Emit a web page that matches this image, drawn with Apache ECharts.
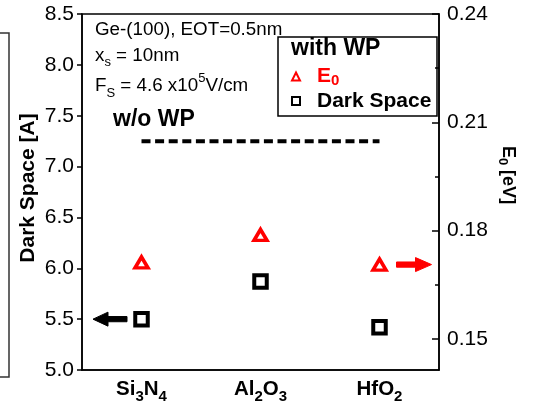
<!DOCTYPE html>
<html>
<head>
<meta charset="utf-8">
<script src="https://cdn.jsdelivr.net/npm/echarts@6/dist/echarts.min.js"></script>
<style>
  html, body { margin: 0; padding: 0; background: #fff; }
  #chart { width: 542px; height: 410px; }
</style>
</head>
<body>
<div id="chart"></div>
<script>
// ---------- data ----------
const categories = ['Si3N4', 'Al2O3', 'HfO2'];
const darkSpace = [5.50, 5.87, 5.42];        // left axis [A]
const e0 = [0.1712, 0.1788, 0.1706];         // right axis [eV]
const woWP = [7.25, 7.25, 7.25];             // w/o WP dark space (dashed)
const leftMin = 5.0, leftMax = 8.5, leftStep = 0.5;
const rightMin = 0.1414, rightMax = 0.24;
const rightMajorTicks = [0.15, 0.18, 0.21, 0.24];
const rightMinorTicks = [0.165, 0.195, 0.225];

const FONT = 'Liberation Sans, Arial, Helvetica, sans-serif';
const chart = echarts.init(document.getElementById('chart'), null, { renderer: 'canvas' });

function chemRich(name) {
  return name.replace(/(\D+)/g, '{b|$1}').replace(/(\d)/g, '{s|$1}');
}

const option = {
  animation: false,
  backgroundColor: '#fff',
  textStyle: { fontFamily: FONT },
  grid: { left: 82, right: 103, top: 14, bottom: 40, show: true, borderColor: '#000', borderWidth: 1.5, backgroundColor: 'transparent' },
  xAxis: {
    type: 'category',
    data: categories,
    boundaryGap: true,
    axisLine: { lineStyle: { color: '#000', width: 1.5 } },
    axisTick: { inside: true, alignWithLabel: true, length: 7, lineStyle: { color: '#000', width: 1.5 } },
    splitLine: { show: false },
    axisLabel: {
      interval: 0,
      hideOverlap: false,
      margin: 4,
      formatter: chemRich,
      rich: {
        b: { fontFamily: FONT, fontSize: 20.5, fontWeight: 'bold', color: '#000', lineHeight: 30, verticalAlign: 'middle' },
        s: { fontFamily: FONT, fontSize: 15, fontWeight: 'bold', color: '#000', lineHeight: 14, verticalAlign: 'bottom' }
      }
    }
  },
  yAxis: [
    {
      type: 'value', min: leftMin, max: leftMax, interval: leftStep, position: 'left',
      axisLine: { show: true, lineStyle: { color: '#000', width: 1.5 } },
      axisTick: { show: true, inside: false, length: 5, lineStyle: { color: '#000', width: 1.5 } },
      splitLine: { show: false },
      axisLabel: { margin: 8, fontFamily: FONT, fontSize: 21, color: '#000', formatter: v => v.toFixed(1) }
    },
    {
      type: 'value', min: rightMin, max: rightMax, position: 'right',
      axisLine: { show: true, lineStyle: { color: '#000', width: 1.5 } },
      axisTick: { show: true, inside: true, length: 7, customValues: rightMajorTicks, lineStyle: { color: '#000', width: 1.5 } },
      splitLine: { show: false },
      axisLabel: { margin: 8, fontFamily: FONT, fontSize: 21, color: '#000', customValues: rightMajorTicks, formatter: v => v.toFixed(2) }
    },
    {
      type: 'value', min: rightMin, max: rightMax, position: 'right',
      axisLine: { show: false },
      axisTick: { show: true, inside: true, length: 4, customValues: rightMinorTicks, lineStyle: { color: '#000', width: 1.5 } },
      splitLine: { show: false },
      axisLabel: { show: false }
    }
  ],
  legend: {
    orient: 'vertical',
    left: 286, top: 61,
    itemWidth: 8, itemHeight: 8, itemGap: 2,
    data: ['E0', 'Dark Space'],
    itemStyle: { borderWidth: 2 },
    formatter: function (name) { return name === 'E0' ? '{r|E}{rs|0}' : '{k|Dark Space}'; },
    textStyle: {
      padding: [0, 0, 0, 12],
      rich: {
        r: { fontFamily: FONT, fontSize: 21, fontWeight: 'bold', color: '#ff0000', lineHeight: 24, verticalAlign: 'middle' },
        rs: { fontFamily: FONT, fontSize: 15, fontWeight: 'bold', color: '#ff0000', lineHeight: 14, verticalAlign: 'bottom' },
        k: { fontFamily: FONT, fontSize: 21, fontWeight: 'bold', color: '#000', lineHeight: 22 }
      }
    }
  },
  series: [
    {
      name: 'w/o WP', type: 'line', xAxisIndex: 0, yAxisIndex: 0,
      data: woWP, showSymbol: false, symbol: 'none', silent: true,
      lineStyle: { color: '#000', width: 4, type: [9, 4.6], cap: 'butt' }
    },
    {
      name: 'E0', type: 'scatter', xAxisIndex: 0, yAxisIndex: 1,
      data: e0, symbol: 'triangle', symbolSize: [13, 11],
      itemStyle: { color: '#fff', borderColor: '#ff0000', borderWidth: 3.5, opacity: 1 }
    },
    {
      name: 'Dark Space', type: 'scatter', xAxisIndex: 0, yAxisIndex: 0,
      data: darkSpace, symbol: 'rect', symbolSize: 12.5,
      itemStyle: { color: '#fff', borderColor: '#000', borderWidth: 4, opacity: 1 }
    }
  ]
};
chart.setOption(option);

function arrow(tipX, y, tailX, headLen, headHalf, shaftHalf, color) {
  const d = tailX > tipX ? 1 : -1;
  const hb = tipX + d * headLen;
  return {
    type: 'polygon', silent: true,
    shape: { points: [[tipX, y], [hb, y - headHalf], [hb, y - shaftHalf], [tailX, y - shaftHalf], [tailX, y + shaftHalf], [hb, y + shaftHalf], [hb, y + headHalf]] },
    style: { fill: color, stroke: color, lineWidth: 1, lineJoin: 'round' }
  };
}

const pSq0 = chart.convertToPixel({ xAxisIndex: 0, yAxisIndex: 0 }, [0, darkSpace[0]]);
const pTr2 = chart.convertToPixel({ xAxisIndex: 0, yAxisIndex: 1 }, [2, e0[2]]);

chart.setOption({
  graphic: [
    // crop artifact of neighbouring panel at far left
    { type: 'polyline', silent: true, shape: { points: [[0, 33], [9, 33], [9, 377], [0, 377]] }, style: { stroke: '#333', lineWidth: 1.5, fill: null } },
    // annotation texts
    { type: 'text', left: 95, top: 20, style: { text: 'Ge-(100), EOT=0.5nm', font: '18.8px ' + FONT, fill: '#000' } },
    { type: 'text', left: 95, top: 46, style: { text: '{a|x}{s|s}{a| = 10nm}', rich: {
        a: { fontFamily: FONT, fontSize: 18.8, fill: '#000', lineHeight: 26, verticalAlign: 'middle' },
        s: { fontFamily: FONT, fontSize: 13, fill: '#000', lineHeight: 12, verticalAlign: 'bottom' } } } },
    { type: 'text', left: 95, top: 72, style: { text: '{a|F}{s|S}{a| = 4.6 x10}{p|5}{a|V/cm}', rich: {
        a: { fontFamily: FONT, fontSize: 18.8, fill: '#000', lineHeight: 28, verticalAlign: 'middle' },
        s: { fontFamily: FONT, fontSize: 13, fill: '#000', lineHeight: 12, verticalAlign: 'bottom' },
        p: { fontFamily: FONT, fontSize: 13, fill: '#000', lineHeight: 12, verticalAlign: 'top' } } } },
    { type: 'text', left: 113, top: 108, style: { text: 'w/o WP', font: 'bold 23px ' + FONT, fill: '#000' } },
    // legend frame and header
    { type: 'rect', silent: true, shape: { x: 278, y: 37, width: 159, height: 79 }, style: { fill: null, stroke: '#000', lineWidth: 1.5 } },
    { type: 'text', left: 291, top: 37, style: { text: 'with WP', font: 'bold 23px ' + FONT, fill: '#000' } },
    // axis titles
    { type: 'text', x: 28, y: 188, rotation: Math.PI / 2, style: { text: 'Dark Space [A]', font: 'bold 21px ' + FONT, fill: '#000', align: 'center', verticalAlign: 'middle' } },
    { type: 'text', x: 508, y: 175, rotation: -Math.PI / 2, style: { text: '{b|E}{s|0}{b| [eV]}', align: 'center', verticalAlign: 'middle', rich: {
        b: { fontFamily: FONT, fontSize: 18, fontWeight: 'bold', fill: '#000', lineHeight: 24, verticalAlign: 'middle' },
        s: { fontFamily: FONT, fontSize: 13, fontWeight: 'bold', fill: '#000', lineHeight: 12, verticalAlign: 'bottom' } } } },
    // arrows pointing to the relevant axis
    arrow(pSq0[0] - 48.5, pSq0[1], pSq0[0] - 14.5, 15, 7, 2.6, '#000'),
    arrow(pTr2[0] + 52, pTr2[1], pTr2[0] + 17, 16, 7, 2.6, '#ff0000')
  ]
});
</script>
</body>
</html>
